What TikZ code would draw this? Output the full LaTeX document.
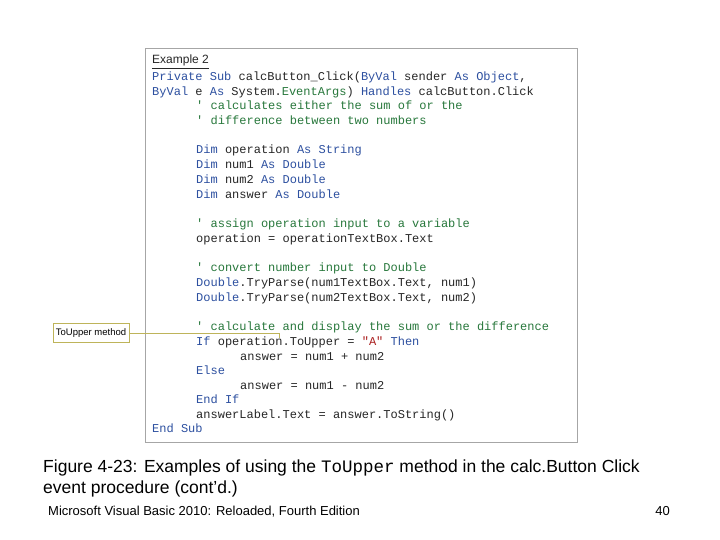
\documentclass[tikz,border=0pt]{standalone}
\usepackage{fontspec}
\setmainfont{Liberation Sans}
\newfontfamily\codefont{Liberation Mono}
\definecolor{kw}{RGB}{45,80,160}
\definecolor{cm}{RGB}{40,120,60}
\definecolor{st}{RGB}{170,30,30}
\definecolor{cl}{RGB}{190,180,90}
\newcommand{\K}[1]{\textcolor{kw}{#1}}
\newcommand{\C}[1]{\textcolor{cm}{#1}}
\newcommand{\Sq}[1]{\textcolor{st}{#1}}
\begin{document}
\begin{tikzpicture}[x=1bp,y=-1bp,
  code/.style={anchor=base west,inner sep=0,font=\codefont\fontsize{12bp}{12bp}\selectfont,text=black!85}]
\useasboundingbox (0,0) rectangle (720,540);
\fill[white] (0,0) rectangle (720,540);
\draw[gray!70,line width=0.8] (145,48) rectangle (577,442);
\node[code,font=\fontsize{12bp}{12bp}\selectfont] (ex) at (152,64) {Example 2};
\draw[black!85,line width=0.5] (ex.south west) ++(0,2) coordinate (u1) -- (u1 -| ex.south east);
\node[code] (l1) at (152,81) {\K{Private Sub} calcButton\_Click(\K{ByVal} sender \K{As Object},};
\node[code] (l2) at (152,96) {\K{ByVal} e \K{As} System.\C{EventArgs}) \K{Handles} calcButton.Click};
\node[code] (l3) at (196,110) {\C{' calculates either the sum of or the}};
\node[code] (l4) at (196,125) {\C{' difference between two numbers}};
\node[code] (l5) at (196,154) {\K{Dim} operation \K{As String}};
\node[code] (l6) at (196,169) {\K{Dim} num1 \K{As Double}};
\node[code] (l7) at (196,184) {\K{Dim} num2 \K{As Double}};
\node[code] (l8) at (196,199) {\K{Dim} answer \K{As Double}};
\node[code] (l9) at (196,228) {\C{' assign operation input to a variable}};
\node[code] (l10) at (196,243) {operation = operationTextBox.Text};
\node[code] (l11) at (196,272) {\C{' convert number input to Double}};
\node[code] (l12) at (196,287) {\K{Double}.TryParse(num1TextBox.Text, num1)};
\node[code] (l13) at (196,301) {\K{Double}.TryParse(num2TextBox.Text, num2)};
\node[code] (l14) at (196,330) {\C{' calculate and display the sum or the difference}};
\node[code] (l15) at (196,345) {\K{If} operation.ToUpper = \Sq{"A"} \K{Then}};
\node[code] (l16) at (240,360) {answer = num1 + num2};
\node[code] (l17) at (196,374) {\K{Else}};
\node[code] (l18) at (240,389) {answer = num1 - num2};
\node[code] (l19) at (196,403) {\K{End If}};
\node[code] (l20) at (196,418) {answerLabel.Text = answer.ToString()};
\node[code] (l21) at (152,432) {\K{End Sub}};
\node[draw=cl,fill=white,inner sep=3,minimum width=74,minimum height=19,font=\fontsize{9.5bp}{9.5bp}\selectfont] (call) at (91,333) {ToUpper method};
\coordinate (c1) at (279,333);
\coordinate (c2) at (279,338);
\draw[cl,line width=0.7] (call.east) -- (c1) -- (c2);
\node[anchor=base west,inner sep=0,font=\fontsize{17.5bp}{17.5bp}\selectfont] (cap) at (43,472)
  {Figure 4-23: Examples of using the {\codefont ToUpper} method in the calc.Button Click};
\node[anchor=base west,inner sep=0,font=\fontsize{17.5bp}{17.5bp}\selectfont] (cap2) at (43,493)
  {event procedure (cont’d.)};
\node[anchor=base west,inner sep=0,font=\fontsize{13bp}{13bp}\selectfont] (ft) at (48,515) {Microsoft Visual Basic 2010: Reloaded, Fourth Edition};
\node[anchor=base east,inner sep=0,font=\fontsize{13bp}{13bp}\selectfont] (pg) at (670,515) {40};
\end{tikzpicture}
\end{document}
